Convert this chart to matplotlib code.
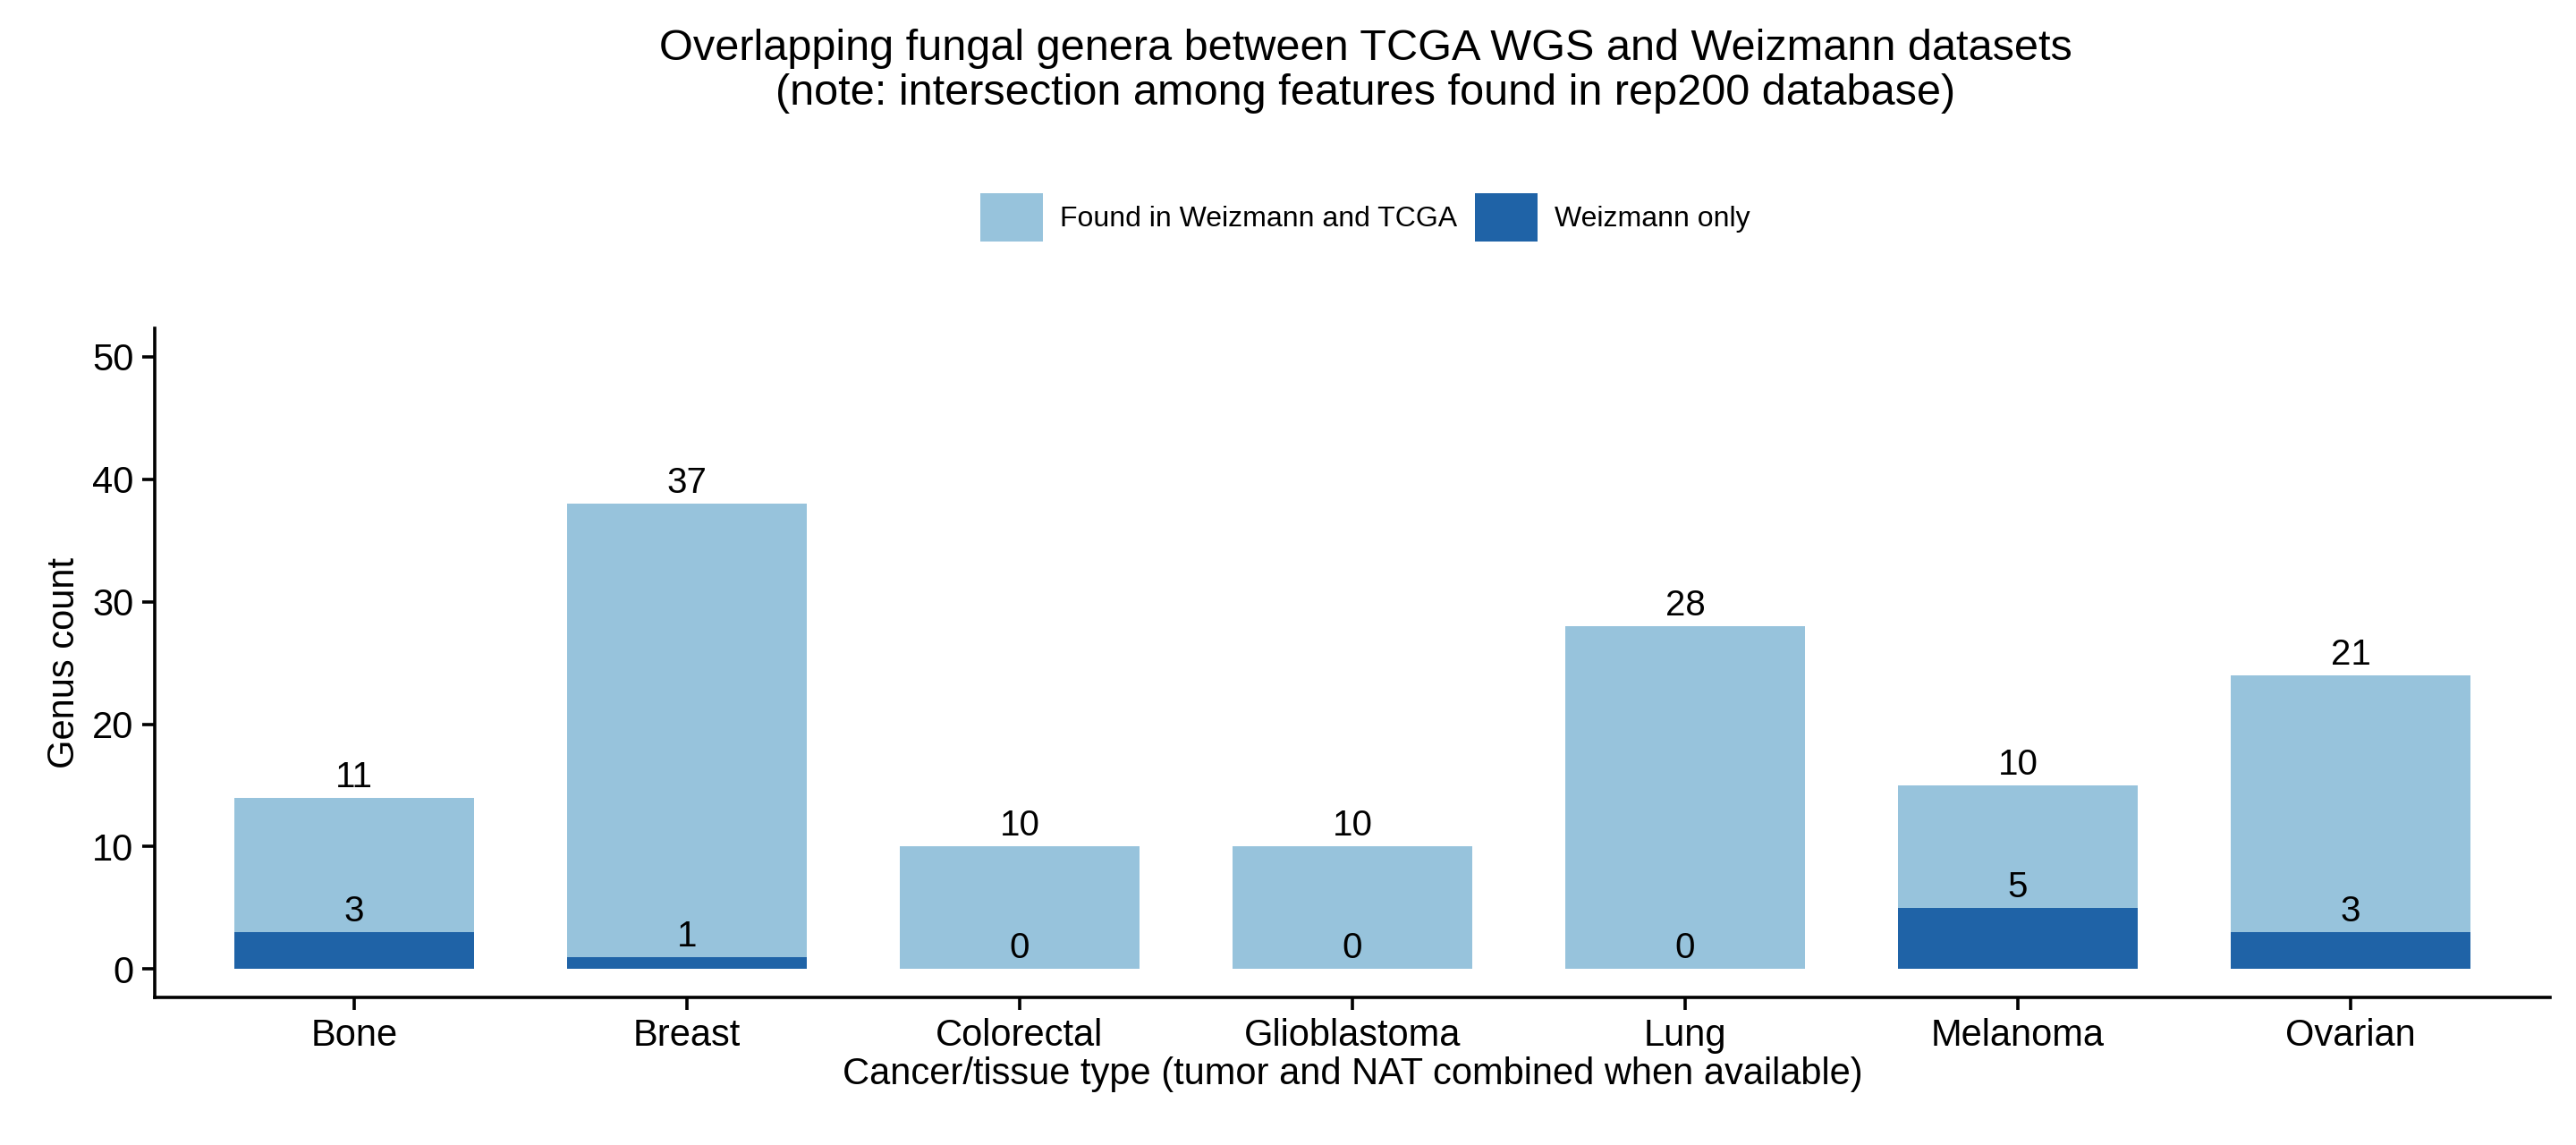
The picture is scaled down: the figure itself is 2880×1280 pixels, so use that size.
import numpy as np
import matplotlib.pyplot as plt

plt.rcParams['font.family'] = ['Liberation Sans', 'DejaVu Sans']

cancer_types = ["Bone", "Breast", "Colorectal", "Glioblastoma", "Lung", "Melanoma", "Ovarian"]
shared_counts = [11, 37, 10, 10, 28, 10, 21]
weizmann_only = [3, 1, 0, 0, 0, 5, 3]

light = "#97c3dc"
dark = "#1f63a7"

fig = plt.figure(figsize=(14.4, 6.4), dpi=200)
ax = fig.add_axes([0.06, 0.129, 0.93, 0.584])

x = np.arange(len(cancer_types))
shared = np.array(shared_counts)
only = np.array(weizmann_only)
ax.bar(x, only, width=0.72, color=dark, label="Weizmann only")
ax.bar(x, shared, width=0.72, bottom=only, color=light, label="Found in Weizmann and TCGA")

for xi, s, o in zip(x, shared, only):
    ax.text(xi, s + o + 0.3, str(s), ha="center", va="bottom", fontsize=14.5)
    ax.text(xi, o + 0.3, str(o), ha="center", va="bottom", fontsize=14.5)

ax.set_xticks(x)
ax.set_xticklabels(cancer_types, fontsize=15)
ax.set_yticks(range(0, 51, 10))
ax.tick_params(axis="y", labelsize=15)
ax.tick_params(width=1.3, length=5)
ax.set_xlim(-0.6, len(x) - 0.4)
ax.set_ylim(-2.3, 52.3)
ax.spines["top"].set_visible(False)
ax.spines["right"].set_visible(False)
ax.spines["left"].set_linewidth(1.3)
ax.spines["bottom"].set_linewidth(1.3)
ax.set_xlabel("Cancer/tissue type (tumor and NAT combined when available)", fontsize=15, labelpad=1)
ax.set_ylabel("Genus count", fontsize=15, labelpad=4)

handles, labels = ax.get_legend_handles_labels()
fig.legend(handles[::-1], labels[::-1], loc="center", bbox_to_anchor=(0.53, 0.81),
           ncol=2, frameon=False, fontsize=11.5, handlelength=2.2, handleheight=2.2,
           columnspacing=0.6, handletextpad=0.6)

fig.suptitle("Overlapping fungal genera between TCGA WGS and Weizmann datasets\n"
             "(note: intersection among features found in rep200 database)",
             x=0.53, y=0.975, fontsize=17.5, linespacing=1.15)

fig.savefig("out.png", dpi=200)
